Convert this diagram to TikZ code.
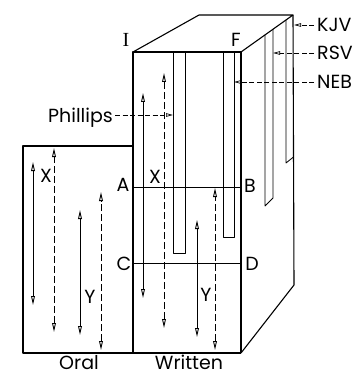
\documentclass[tikz,border=0pt]{standalone}
\usepackage{fontspec}
\setmainfont{Poppins}
\newfontfamily\serifI{Liberation Serif}
\usetikzlibrary{arrows.meta}
\begin{document}
\begin{tikzpicture}[x=1pt,y=-1pt,
  outline/.style={line width=1.1pt, line join=round},
  bar/.style={line width=0.8pt, line join=round},
  dbl/.style={{Triangle[open,length=9pt,width=3.8pt,line width=0.9pt]}-{Triangle[open,length=9pt,width=3.8pt,line width=0.9pt]}, line width=0.7pt},
  dsh/.style={dash pattern=on 7pt off 3pt},
  ptr/.style={-{Triangle[open,length=7pt,width=3.5pt]}, line width=0.7pt, dash pattern=on 5pt off 2.5pt},
  lbl/.style={font=\fontsize{19}{19}\selectfont, inner sep=0pt},
]
\useasboundingbox (0,0) rectangle (359,377);
% geometry
\coordinate (TL) at (133,52);
\coordinate (TR) at (241,52);
\coordinate (BL) at (199,15);
\coordinate (BR) at (293,15);
\coordinate (RB) at (294,285);
\coordinate (FB) at (241,353);
\coordinate (WB) at (133,353);
\coordinate (OT) at (23,146);
\coordinate (OTR) at (133,146);
\coordinate (OB) at (23,353);
% outline
\draw[outline] (FB) -- (TR) -- (TL) -- (WB);
\draw[outline] (TL) -- (BL) -- (BR) -- (TR);
\draw[outline] (BR) -- (RB) -- (FB);
\draw[outline] (OTR) -- (OT) -- (OB) -- (FB);
% bars
\draw[bar] (173,52) -- (173,253) -- (185,253) -- (185,52);
\draw[bar] (223,52) -- (223,237) -- (234,237) -- (234,52);
\draw[bar] (265,34.9) -- (265,206) -- (273,198) -- (273,29.2);
\draw[bar] (286,20) -- (286,163) -- (293.5,157);
% AB, CD
\coordinate (Apt) at (133,187); \coordinate (Bpt) at (241,187);
\coordinate (Cpt) at (133,263); \coordinate (Dpt) at (241,263);
\draw[bar] (Apt) -- (Bpt);
\draw[bar] (Cpt) -- (Dpt);
% vertical arrows, oral
\coordinate (o1t) at (33,162); \coordinate (o1b) at (33,305);
\coordinate (o2t) at (54,148); \coordinate (o2b) at (54,332);
\coordinate (o3t) at (80,210); \coordinate (o3b) at (80,335);
\coordinate (o4t) at (101,192); \coordinate (o4b) at (101,350);
\draw[dbl] (o1b) -- (o1t);
\draw[dbl,dsh] (o2b) -- (o2t);
\draw[dbl] (o3b) -- (o3t);
\draw[dbl,dsh] (o4b) -- (o4t);
% vertical arrows, written
\coordinate (w1t) at (143,93); \coordinate (w1b) at (143,298);
\coordinate (w2t) at (164,73); \coordinate (w2b) at (164,328);
\coordinate (w3t) at (197,220); \coordinate (w3b) at (197,337);
\coordinate (w4t) at (215,188); \coordinate (w4b) at (215,350);
\draw[dbl] (w1b) -- (w1t);
\draw[dbl,dsh] (w2b) -- (w2t);
\draw[dbl] (w3b) -- (w3t);
\draw[dbl,dsh] (w4b) -- (w4t);
% labels
\node[lbl] (X1) at (46,176) {X};
\node[lbl] (Y1) at (90,297) {Y};
\node[lbl] (X2) at (155,177) {X};
\node[lbl] (Y2) at (206,295) {Y};
\node[lbl] (A) at (123,185) {A};
\node[lbl] (B) at (250,186) {B};
\node[lbl] (C) at (124,264) {C};
\node[lbl] (D) at (252,264) {D};
\node[lbl,font=\serifI\fontsize{20}{20}\selectfont] (I) at (126,40) {I};
\node[lbl] (F) at (236,40) {F};
\node[lbl,anchor=base] (oral) at (79,369) {Oral};
\node[lbl,anchor=base] (written) at (189,369) {Written};
\node[lbl,anchor=base east] (phil) at (113,122) {Phillips};
\node[lbl,anchor=base west] (kjv) at (317,32) {KJV};
\node[lbl,anchor=base west] (rsv) at (317,60) {RSV};
\node[lbl,anchor=base west] (neb) at (317,89) {NEB};
% pointers
\coordinate (phT) at (173,115);
\coordinate (kjT) at (294,25);
\coordinate (rsT) at (273,53);
\coordinate (neT) at (234,82);
\draw[ptr] (phil.east |- phT) ++(2,0) -- (phT);
\draw[ptr] (kjv.west |- kjT) ++(-3,0) -- (kjT);
\draw[ptr] (rsv.west |- rsT) ++(-3,0) -- (rsT);
\draw[ptr] (neb.west |- neT) ++(-3,0) -- (neT);
\end{tikzpicture}
\end{document}
